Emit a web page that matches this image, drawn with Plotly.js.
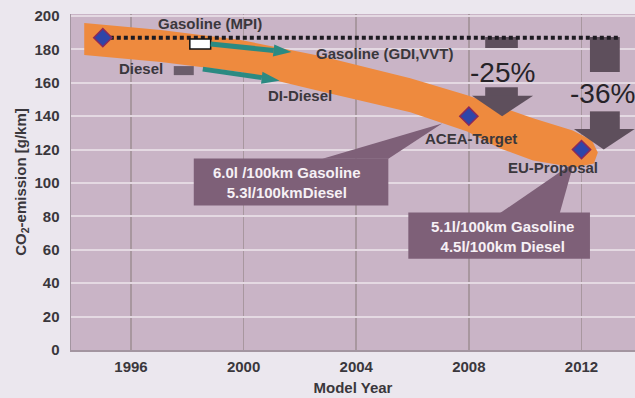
<!DOCTYPE html>
<html>
<head>
<meta charset="utf-8">
<script src="https://cdn.plot.ly/plotly-3.0.1.min.js"></script>
<style>
  html, body { margin: 0; padding: 0; background: #ebe7ee; }
  #chart { width: 635px; height: 398px; }
</style>
</head>
<body>
<div id="chart"></div>
<script>
// CO2 targets for passenger cars (g/km) by model year
const targetYears = [1995, 2008, 2012];
const targetCO2 = [187, 140, 120];
const targetNames = ['Gasoline (MPI)', 'ACEA-Target', 'EU-Proposal'];

// Gasoline MPI reference level carried forward
const baselineYears = [1995, 2013.35];
const baselineCO2 = [187, 187];

// Fleet emission corridor: upper edge (left to right), lower edge (right to left)
const corridorUpperYears = [1994.34, 1997.06, 1999.90, 2002.73, 2005.92, 2007.94, 2010.28, 2011.69, 2012.37, 2012.58];
const corridorUpperCO2   = [195.8,   191.6,   185.6,   176.0,   162.8,   152.6,   138.7,   131.5,   125.5,   118.3];
const corridorLowerYears = [2012.44, 2011.76, 2010.28, 2009.11, 2007.94, 2005.92, 2002.73, 1999.90, 1997.06, 1994.34];
const corridorLowerCO2   = [111.7,   109.3,   113.5,   120.7,   130.9,   142.3,   155.0,   166.4,   172.4,   176.6];

// Axis ticks
const yTicks = [0, 20, 40, 60, 80, 100, 120, 140, 160, 180, 200];
const xTicks = [1996, 2000, 2004, 2008, 2012];

// Fuel consumption equivalents of the targets
const aceaConsumption = ['6.0l /100km Gasoline', '5.3l/100kmDiesel'];
const euConsumption = ['5.1l/100km Gasoline', '4.5l/100km Diesel'];

// Reductions relative to the MPI baseline
const reductions = targetCO2.slice(1).map(v => Math.round((v / targetCO2[0] - 1) * 100) + '%');

const FONT = '"Liberation Sans", Arial, sans-serif';
const DARK = '#3a373c';
const TEAL = '#2b8a82';
const ARROW = '#5e4f5c';
const CALLOUT = '#7e6078';

function rect(x0, x1, y0, y1, fill, layer, line) {
  return { type: 'rect', xref: 'x', yref: 'y', x0, x1, y0, y1, fillcolor: fill,
           line: line || { width: 0 }, layer };
}
function poly(pts, fill, layer) {
  return { type: 'path', xref: 'x', yref: 'y', layer, fillcolor: fill, line: { width: 0 },
           path: 'M' + pts.map(p => p[0] + ',' + p[1]).join('L') + 'Z' };
}

const traces = [
  {
    x: corridorUpperYears.concat(corridorLowerYears),
    y: corridorUpperCO2.concat(corridorLowerCO2),
    mode: 'lines', fill: 'toself', fillcolor: '#ee8a3e',
    line: { width: 0, color: '#ee8a3e' }, hoverinfo: 'skip', showlegend: false
  },
  {
    x: baselineYears, y: baselineCO2, mode: 'lines',
    line: { color: '#1e1b22', width: 4, dash: '4px,3px' }, showlegend: false
  },
  {
    x: targetYears, y: targetCO2, mode: 'markers', text: targetNames,
    marker: { symbol: 'diamond', size: 14, color: '#2f45a8', line: { color: '#8a2a5a', width: 1.5 } },
    showlegend: false
  }
];

const shapes = [
  // callout boxes with pointers
  rect(1998.23, 2005.14, 86.5, 114.7, CALLOUT, 'between'),
  poly([[2002.80, 114.5], [2005.14, 114.5], [2007.05, 135.7]], CALLOUT, 'between'),
  rect(2005.85, 2012.30, 54.7, 82.3, CALLOUT, 'between'),
  poly([[2009.11, 82.0], [2011.23, 82.0], [2011.73, 112.3]], CALLOUT, 'between'),

  // reduction arrow to the ACEA target
  rect(2008.58, 2009.74, 180.8, 187.4, ARROW, 'between'),
  rect(2008.58, 2009.74, 151.8, 157.4, ARROW, 'above'),
  poly([[2008.11, 152.2], [2010.28, 152.2], [2009.18, targetCO2[1]]], ARROW, 'above'),

  // reduction arrow to the EU proposal
  rect(2012.30, 2013.36, 166.4, 187.4, ARROW, 'between'),
  rect(2012.30, 2013.36, 131.9, 142.9, ARROW, 'above'),
  poly([[2011.73, 132.3], [2013.89, 132.3], [2012.79, targetCO2[2]]], ARROW, 'above'),

  // technology markers
  rect(1998.09, 1998.83, 180.2, 186.2, '#ffffff', 'above', { color: '#111111', width: 1.5 }),
  rect(1997.52, 1998.23, 164.6, 170.0, '#6b5d6b', 'above'),

  // gasoline -> GDI/VVT
  { type: 'line', xref: 'x', yref: 'y', x0: 1998.83, y0: 183.2, x1: 2001.07, y1: 179.4,
    line: { color: TEAL, width: 5 }, layer: 'above' },
  poly([[2001.09, 183.0], [2001.04, 175.8], [2001.70, 178.4]], TEAL, 'above'),

  // diesel -> DI-Diesel
  { type: 'line', xref: 'x', yref: 'y', x0: 1998.55, y0: 168.2, x1: 2000.65, y1: 163.1,
    line: { color: TEAL, width: 5 }, layer: 'above' },
  poly([[2000.67, 166.6], [2000.62, 159.5], [2001.28, 161.3]], TEAL, 'above')
];

function label(text, x, y, opts) {
  return Object.assign({
    text, x, y, xref: 'x', yref: 'y', showarrow: false,
    font: { family: FONT, size: 15, color: DARK, weight: 700 }
  }, opts || {});
}

const bigFont = { family: FONT, size: 28, color: '#262328' };
const calloutFont = { family: FONT, size: 15, color: '#f6f0f5', weight: 700 };

const annotations = [
  label(targetNames[0], 1998.80, 195.8),
  label('Diesel', 1996.35, 168.8),
  label('Gasoline (GDI,VVT)', 2005.03, 177.8),
  label('DI-Diesel', 2002.02, 152.6),
  label(targetNames[1], 2008.08, 126.7),
  label(targetNames[2], 2010.98, 109.3),
  label(reductions[0], 2009.21, 166.4, { font: bigFont }),
  label(reductions[1], 2011.52, 153.8, { xanchor: 'left', font: bigFont }),
  label(aceaConsumption.join('<br>'), 2001.53, 100.3, { font: calloutFont }),
  label(euConsumption.join('<br>'), 2009.18, 68.2, { font: calloutFont })
];

const layout = {
  width: 635, height: 398,
  margin: { l: 71, r: 0, t: 14, b: 48 },
  paper_bgcolor: '#ebe7ee',
  plot_bgcolor: '#c9b4c6',
  showlegend: false,
  xaxis: {
    range: [1993.87, 2013.9],
    tickvals: xTicks, ticktext: xTicks.map(String),
    showgrid: true, gridcolor: '#a8979f', gridwidth: 1.5,
    zeroline: false, showline: true, linecolor: '#a395a0', linewidth: 1.5,
    ticks: '', ticklabelstandoff: 2,
    tickfont: { family: FONT, size: 15, color: DARK, weight: 700 },
    title: { text: 'Model Year', standoff: 9,
             font: { family: FONT, size: 15, color: DARK, weight: 700 } }
  },
  yaxis: {
    range: [0, 201.2],
    tickvals: yTicks, ticktext: yTicks.map(String),
    showgrid: true, gridcolor: '#e4d9e2', gridwidth: 2,
    zeroline: false, showline: true, linecolor: '#a395a0', linewidth: 1.5,
    ticks: '', ticklabelstandoff: 7,
    tickfont: { family: FONT, size: 15, color: DARK, weight: 700 },
    title: { text: 'CO<sub>2</sub>-emission [g/km]', standoff: 4,
             font: { family: FONT, size: 15, color: DARK, weight: 700 } }
  },
  shapes, annotations
};

Plotly.newPlot('chart', traces, layout, { displayModeBar: false, staticPlot: true });
</script>
</body>
</html>
